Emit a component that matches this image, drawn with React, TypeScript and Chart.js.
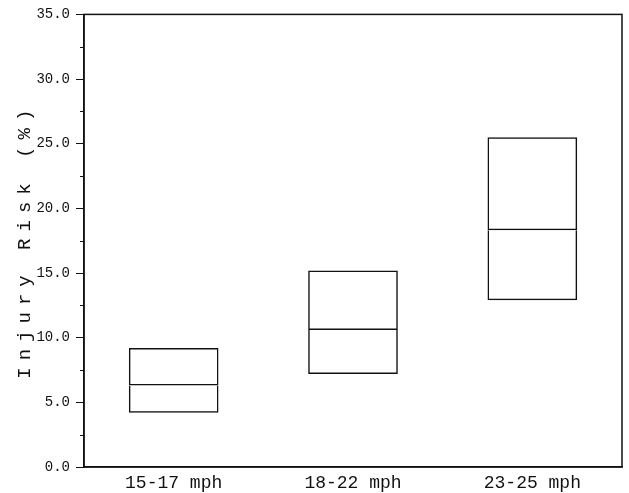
import React, { useEffect, useRef } from "react";
import { Chart, registerables } from "chart.js";

Chart.register(...registerables);

const categories = ["15-17 mph", "18-22 mph", "23-25 mph"];
const lows = [4.2, 7.2, 12.9];
const medians = [6.3, 10.6, 18.3];
const highs = [9.2, 15.2, 25.5];
const yMin = 0;
const yMax = 35;
const yStep = 2.5;
const yTitle = "Injury Risk (%)";

const INK = "#111111";
const MONO = "'Liberation Mono', 'DejaVu Sans Mono', monospace";

const framePlugin = {
  id: "frameAndMinor",
  beforeDraw(chart: any) {
    const ys = chart.scales.y;
    if (ys && !ys.__patched) {
      const orig = ys.drawTitle.bind(ys);
      ys.drawTitle = function () {
        const ctx = chart.ctx;
        ctx.save();
        (ctx as any).letterSpacing = "7px";
        orig();
        ctx.restore();
      };
      ys.__patched = true;
    }
  },
  afterDraw(chart: any) {
    const { ctx, chartArea } = chart;
    const ys = chart.scales.y;
    ctx.save();
    ctx.strokeStyle = INK;
    ctx.lineWidth = 1.5;
    ctx.strokeRect(chartArea.left, chartArea.top, chartArea.right - chartArea.left, chartArea.bottom - chartArea.top);
    ctx.lineWidth = 1;
    for (let v = yMin; v <= yMax; v += yStep) {
      if (Math.abs(v % 5) > 1e-6) {
        const py = Math.round(ys.getPixelForValue(v)) + 0.5;
        ctx.beginPath();
        ctx.moveTo(chartArea.left - 4, py);
        ctx.lineTo(chartArea.left, py);
        ctx.stroke();
      }
    }
    ctx.restore();
  },
};

export default function App() {
  const ref = useRef<HTMLCanvasElement>(null);
  useEffect(() => {
    if (!ref.current) return;
    const common = {
      backgroundColor: "rgba(0,0,0,0)",
      borderColor: INK,
      borderWidth: 1.5,
      grouped: false,
      barPercentage: 0.5,
      categoryPercentage: 1,
    };
    const chart = new Chart(ref.current, {
      type: "bar",
      data: {
        labels: categories,
        datasets: [
          {
            ...common,
            data: categories.map((_, i) => [lows[i], medians[i]]) as any,
            borderSkipped: "end",
          } as any,
          {
            ...common,
            data: categories.map((_, i) => [medians[i], highs[i]]) as any,
            borderSkipped: false,
          } as any,
        ],
      },
      options: {
        responsive: false,
        animation: false,
        layout: { padding: { top: 13, right: 7, left: 0, bottom: 0 } },
        plugins: { legend: { display: false }, tooltip: { enabled: false } },
        scales: {
          x: {
            grid: { display: false, drawTicks: false },
            border: { display: true, color: INK, width: 1.5 },
            ticks: { color: INK, font: { family: MONO, size: 18 }, padding: 5, maxRotation: 0 },
            afterFit(scale: any) {
              scale.height = 26;
            },
          },
          y: {
            min: yMin,
            max: yMax,
            grid: {
              drawOnChartArea: false,
              drawTicks: true,
              tickLength: 8,
              tickColor: (c: any) => (Math.abs(c.tick.value % 5) < 1e-6 ? INK : "rgba(0,0,0,0)"),
              tickWidth: 1,
            },
            border: { display: true, color: INK, width: 1.5 },
            ticks: {
              stepSize: yStep,
              autoSkip: false,
              color: INK,
              font: { family: MONO, size: 14 },
              padding: 6,
              callback: (v: any) => (Math.abs(Number(v) % 5) < 1e-6 ? Number(v).toFixed(1) : ""),
            },
            title: {
              display: true,
              text: yTitle,
              color: INK,
              font: { family: MONO, size: 19 },
              padding: { top: 14, bottom: 0 },
            },
            afterFit(scale: any) {
              scale.width = 84;
            },
          },
        },
      },
      plugins: [framePlugin],
    });
    return () => chart.destroy();
  }, []);
  return (
    <div style={{ position: "fixed", left: 0, top: 0, width: 629, height: 493, background: "#fff" }}>
      <canvas ref={ref} width={629} height={493} />
    </div>
  );
}
